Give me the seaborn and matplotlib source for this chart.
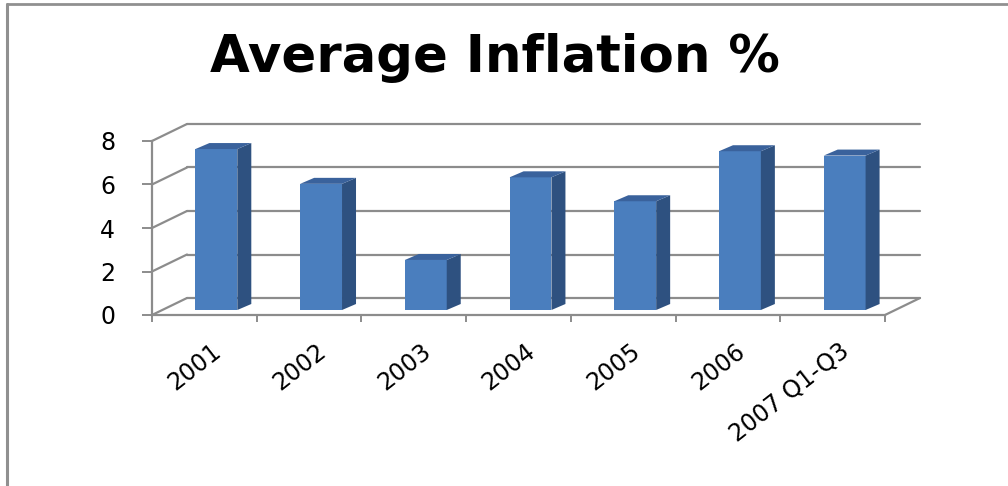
import numpy as np
import pandas as pd
import matplotlib
matplotlib.use("Agg")
import matplotlib.pyplot as plt
import seaborn as sns
from matplotlib.patches import Polygon
from matplotlib.lines import Line2D
from matplotlib.transforms import ScaledTranslation

# ---- data ----
categories = ["2001", "2002", "2003", "2004", "2005", "2006", "2007 Q1-Q3"]
inflation = [7.4, 5.8, 2.3, 6.1, 5.0, 7.3, 7.1]
y_ticks = [0, 2, 4, 6, 8]
title = "Average Inflation %"

# ---- style ----
FRONT = "#4a7ebe"
SIDE = "#2e5180"
TOP = "#3a629c"
GRID = "#8c8c8c"

sns.set_theme(style="white")
plt.rcParams["font.family"] = ["DejaVu Sans"]

W, H, DPI = 1008, 486, 100
fig = plt.figure(figsize=(W / DPI, H / DPI), dpi=DPI)
fig.patch.set_facecolor("white")

# front plane of the 3D box in pixels
x0, x1, yb, yt = 152, 885, 315, 141
ax = fig.add_axes([x0 / W, 1 - yb / H, (x1 - x0) / W, (yb - yt) / H])
ax.set_facecolor("none")

df = pd.DataFrame({"year": categories, "value": inflation})
sns.barplot(data=df, x="year", y="value", color=FRONT, width=0.4,
            saturation=1, edgecolor="none", linewidth=0, ax=ax, zorder=3)
ax.set_xlim(-0.5, len(categories) - 0.5)
ax.set_ylim(y_ticks[0], y_ticks[-1])

# pixel -> data unit conversion
ppx = (x1 - x0) / (len(categories))
ppy = (yb - yt) / (y_ticks[-1] - y_ticks[0])

# depth of the box (back wall offset) and bar offsets
back_dx, back_dy = 35 / ppx, 17 / ppy
bar_off = ScaledTranslation(12 / DPI, 5 / DPI, fig.dpi_scale_trans)
bdx, bdy = 14 / ppx, 6 / ppy

xmin, xmax = ax.get_xlim()
# back wall gridlines + left wall diagonals
for k in y_ticks:
    ax.add_line(Line2D([xmin + back_dx, xmax + back_dx], [k + back_dy, k + back_dy],
                       color=GRID, lw=1.6, clip_on=False, zorder=1))
    ax.add_line(Line2D([xmin, xmin + back_dx], [k, k + back_dy],
                       color=GRID, lw=1.6, clip_on=False, zorder=1))
# floor right edge
ax.add_line(Line2D([xmax, xmax + back_dx], [0, back_dy], color=GRID, lw=1.6,
                   clip_on=False, zorder=1))

# 3D bars: shift fronts, add side and top faces
for p in list(ax.patches):
    x, w, h = p.get_x(), p.get_width(), p.get_height()
    p.set_transform(ax.transData + bar_off)
    p.set_clip_on(False)
    side = Polygon([(x + w, 0), (x + w + bdx, bdy), (x + w + bdx, h + bdy), (x + w, h)],
                   closed=True, facecolor=SIDE, edgecolor="none",
                   transform=ax.transData + bar_off, clip_on=False, zorder=3)
    top = Polygon([(x, h), (x + w, h), (x + w + bdx, h + bdy), (x + bdx, h + bdy)],
                  closed=True, facecolor=TOP, edgecolor="none",
                  transform=ax.transData + bar_off, clip_on=False, zorder=3)
    ax.add_patch(side)
    ax.add_patch(top)

# spines
for s in ["top", "right"]:
    ax.spines[s].set_visible(False)
for s in ["left", "bottom"]:
    ax.spines[s].set_color(GRID)
    ax.spines[s].set_linewidth(1.6)
    ax.spines[s].set_zorder(2)

ax.set_xlabel("")
ax.set_ylabel("")
ax.set_yticks(y_ticks)
ax.set_yticklabels([str(v) for v in y_ticks])
ax.tick_params(axis="y", which="major", direction="out", length=7.5, width=1.4,
               color=GRID, pad=19, labelsize=17, labelcolor="black", left=True)

ax.set_xticks(np.arange(len(categories)))
ax.set_xticks(np.arange(len(categories) + 1) - 0.5, minor=True)
ax.tick_params(axis="x", which="major", length=0, pad=24, labelsize=17, labelcolor="black")
ax.tick_params(axis="x", which="minor", direction="out", length=5, width=1.4,
               color=GRID, bottom=True)
lab_off = ScaledTranslation(14 / DPI, 0, fig.dpi_scale_trans)
for lab in ax.get_xticklabels():
    lab.set_rotation(38)
    lab.set_ha("right")
    lab.set_va("center")
    lab.set_rotation_mode("anchor")
    lab.set_transform(lab.get_transform() + lab_off)

# title
fig.text(495 / W, 1 - 72 / H, title, ha="center", va="baseline",
         fontsize=37, fontweight="bold", color="black")

# outer frame (top and left)
fig.add_artist(Line2D([6.5 / W, 1], [1 - 4 / H, 1 - 4 / H], transform=fig.transFigure,
                      color="#909090", lw=2))
fig.add_artist(Line2D([6.5 / W, 6.5 / W], [0, 1 - 4 / H], transform=fig.transFigure,
                      color="#909090", lw=2.2))

fig.savefig("out.png", dpi=DPI, facecolor="white")
